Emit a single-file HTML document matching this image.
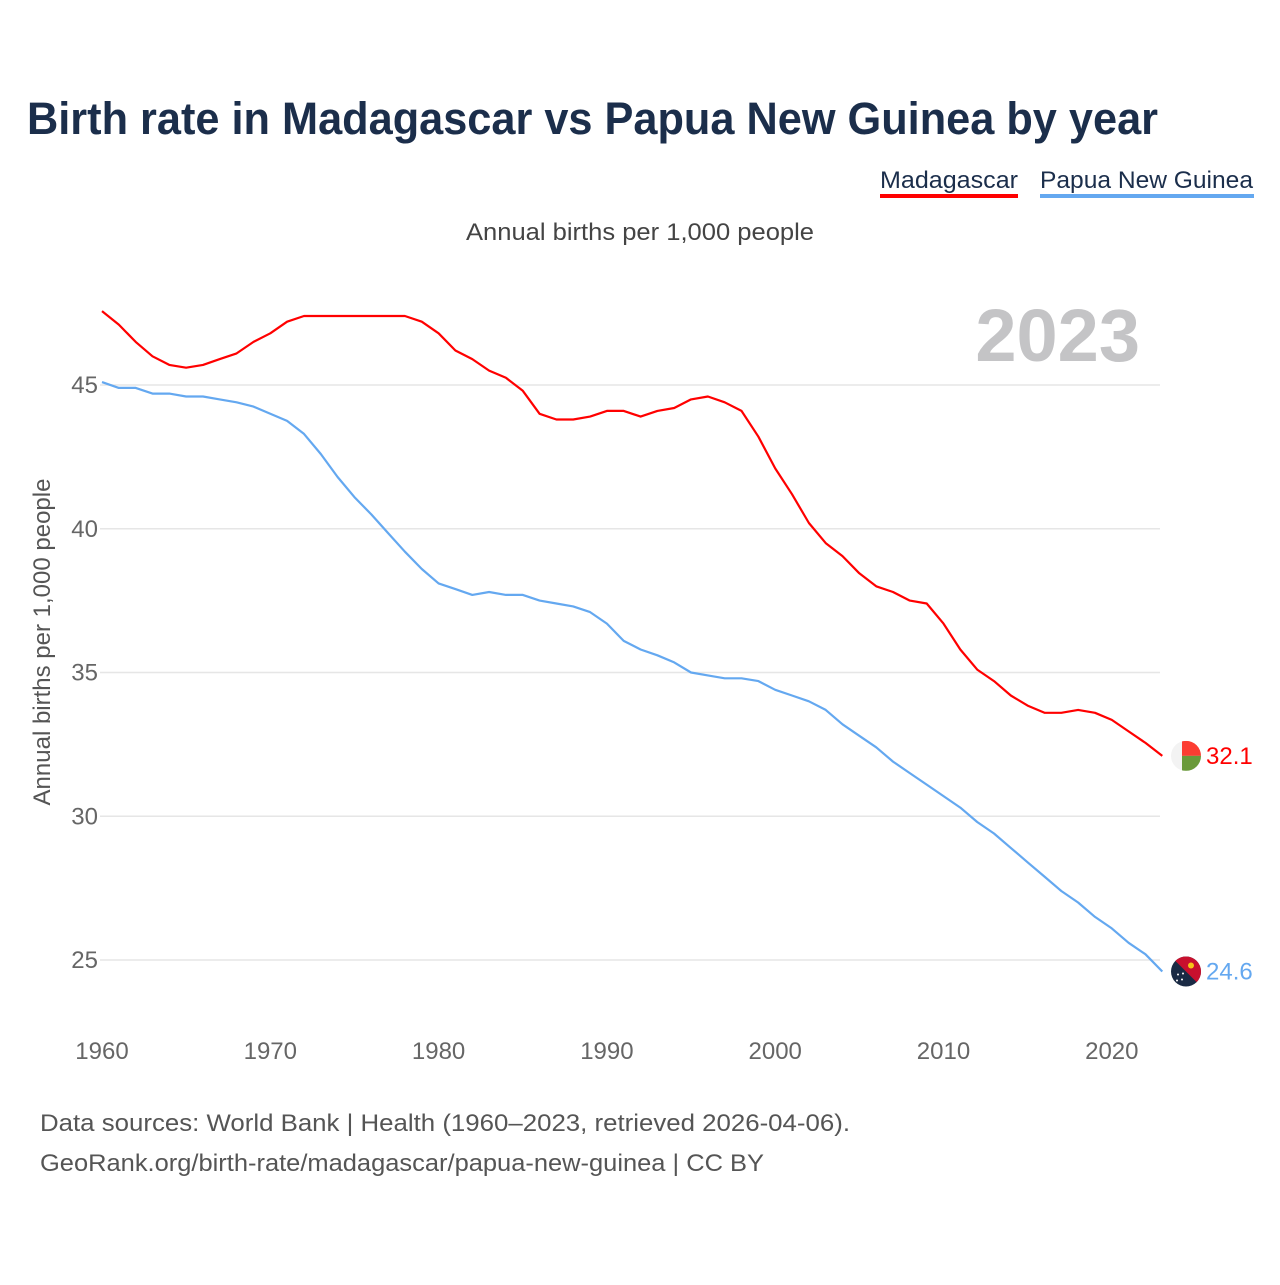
<!DOCTYPE html>
<html><head><meta charset="utf-8">
<style>
body{margin:0;background:#fff;font-family:"Liberation Sans",sans-serif;}
svg text{font-family:"Liberation Sans",sans-serif;}
</style></head>
<body>
<svg id="chart" width="1280" height="1280" viewBox="0 0 1280 1280" xmlns="http://www.w3.org/2000/svg">
<rect width="1280" height="1280" fill="#fff"/>
<text x="27" y="134" font-size="45" font-weight="bold" fill="#1b2e4b" textLength="1131" lengthAdjust="spacingAndGlyphs">Birth rate in Madagascar vs Papua New Guinea by year</text>
<g>
<text x="880" y="188" font-size="24" fill="#1b2e4b" textLength="138" lengthAdjust="spacingAndGlyphs">Madagascar</text>
<rect x="880" y="194" width="138" height="4" fill="#ff0000"/>
</g>
<g>
<text x="1040" y="188" font-size="24" fill="#1b2e4b" textLength="213" lengthAdjust="spacingAndGlyphs">Papua New Guinea</text>
<rect x="1040" y="194" width="214" height="4" fill="#64a8f0"/>
</g>
<text x="466" y="240" font-size="24" fill="#444" textLength="348" lengthAdjust="spacingAndGlyphs">Annual births per 1,000 people</text>
<text x="1140" y="361" font-size="74" font-weight="bold" fill="#c4c4c6" text-anchor="end">2023</text>
<text transform="translate(50,642) rotate(-90)" font-size="24" fill="#555" text-anchor="middle">Annual births per 1,000 people</text>
<g id="grid"></g><g id="xticks"></g><g id="series"></g>
<text x="40" y="1131" font-size="24" fill="#555" textLength="810" lengthAdjust="spacingAndGlyphs">Data sources: World Bank | Health (1960–2023, retrieved 2026-04-06).</text>
<text x="40" y="1171" font-size="24" fill="#555" textLength="724" lengthAdjust="spacingAndGlyphs">GeoRank.org/birth-rate/madagascar/papua-new-guinea | CC BY</text>
</svg>
<script>
const years=[];for(let y=1960;y<=2023;y++)years.push(y);
const madagascar=[47.57,47.1,46.5,46.0,45.7,45.6,45.7,45.9,46.1,46.5,46.8,47.2,47.4,47.4,47.4,47.4,47.4,47.4,47.4,47.2,46.8,46.2,45.9,45.5,45.25,44.8,44.0,43.8,43.8,43.9,44.1,44.1,43.9,44.1,44.2,44.5,44.6,44.4,44.1,43.2,42.1,41.2,40.2,39.5,39.05,38.45,38.0,37.8,37.5,37.4,36.7,35.8,35.1,34.7,34.2,33.85,33.6,33.6,33.7,33.6,33.35,32.95,32.55,32.1];
const png=[45.1,44.9,44.9,44.7,44.7,44.6,44.6,44.5,44.4,44.25,44.0,43.75,43.3,42.6,41.8,41.1,40.5,39.85,39.2,38.6,38.1,37.9,37.7,37.8,37.7,37.7,37.5,37.4,37.3,37.1,36.7,36.1,35.8,35.6,35.35,35.0,34.9,34.8,34.8,34.7,34.4,34.2,34.0,33.7,33.2,32.8,32.4,31.9,31.5,31.1,30.7,30.3,29.8,29.4,28.9,28.4,27.9,27.4,27.0,26.5,26.1,25.6,25.2,24.6];
const yTicks=[25,30,35,40,45];
const xTicks=[1960,1970,1980,1990,2000,2010,2020];
const NS="http://www.w3.org/2000/svg";
const X=y=>102+(y-1960)*16.83;
const Y=v=>385+(45-v)*28.75;
function mk(t,a,p){const e=document.createElementNS(NS,t);for(const k in a)e.setAttribute(k,a[k]);p.appendChild(e);return e;}
const grid=document.getElementById('grid');
yTicks.forEach(v=>{
 const l=mk('line',{x1:100,x2:1160,y1:Y(v),y2:Y(v),stroke:'#e6e6e6','stroke-width':1.5},grid);
 
 
 const t=mk('text',{x:98,y:Y(v)+8,'font-size':24,fill:'#666','text-anchor':'end'},grid);
 t.textContent=v;
 
 
});
const xt=document.getElementById('xticks');
xTicks.forEach(v=>{
 const t=mk('text',{x:X(v),y:1059,'font-size':24,fill:'#666','text-anchor':'middle'},xt);
 t.textContent=v;
 
 
});
const s=document.getElementById('series');
function line(data,color,name){
 const d=data.map((v,i)=>(i?'L':'M')+X(years[i]).toFixed(1)+','+Y(v).toFixed(1)).join('');
 const p=mk('path',{d:d,fill:'none',stroke:color,'stroke-width':2.2,'stroke-linejoin':'round'},s);
 
 
 const last=data[data.length-1];
 const t=mk('text',{x:1206,y:Y(last)+8,'font-size':24,fill:color},s);
 t.textContent=last.toFixed(1);
 
 
 return Y(last);
}
const ym=line(madagascar,'#ff0000','madagascar');
const yp=line(png,'#64a8f0','papua-new-guinea');
const cx=1186,r=15;
const fm=mk('g',{},s);


const cm=mk('clipPath',{id:'cm'},fm);mk('circle',{cx:cx,cy:ym,r:r},cm);
const gm=mk('g',{'clip-path':'url(#cm)'},fm);
mk('rect',{x:cx-r,y:ym-r,width:2*r,height:2*r,fill:'#f3f3f3'},gm);
mk('rect',{x:cx-4,y:ym-r,width:r+4,height:r,fill:'#fc3d32'},gm);
mk('rect',{x:cx-4,y:ym,width:r+4,height:r,fill:'#6a9a3a'},gm);
const fp=mk('g',{},s);


const cp=mk('clipPath',{id:'cp'},fp);mk('circle',{cx:cx,cy:yp,r:r},cp);
const gp=mk('g',{'clip-path':'url(#cp)'},fp);
mk('rect',{x:cx-r,y:yp-r,width:2*r,height:2*r,fill:'#1a2a44'},gp);
mk('polygon',{points:`${cx-r},${yp-r} ${cx+r},${yp-r} ${cx+r},${yp+r}`,fill:'#c8102e'},gp);
mk('circle',{cx:cx+5,cy:yp-6,r:3,fill:'#f5c518'},gp);
[[-8,3],[-4,8],[-9,9],[-3,2]].forEach(([dx,dy])=>mk('circle',{cx:cx+dx,cy:yp+dy,r:1,fill:'#fff'},gp));
</script>
</body></html>
